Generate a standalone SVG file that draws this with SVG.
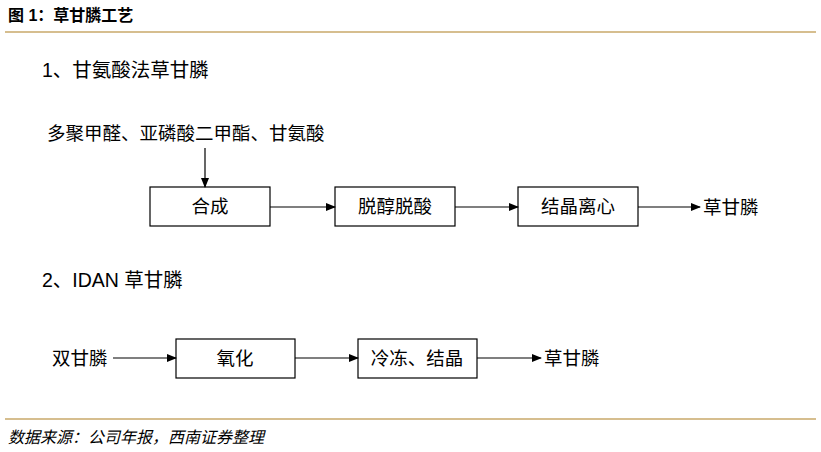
<svg xmlns="http://www.w3.org/2000/svg" width="821" height="452" viewBox="0 0 821 452">
<style>
text{font-family:"Liberation Sans","Noto Sans CJK SC",sans-serif;fill:#000}
.t{font-size:18.5px}
.box rect{fill:#fff;stroke:#000;stroke-width:1.2}
.box text{font-size:18.5px;text-anchor:middle}
.c line{stroke:#000;stroke-width:1.2;marker-end:url(#a)}
</style>
<defs><marker id="a" markerWidth="10" markerHeight="8" refX="9" refY="4" orient="auto" markerUnits="userSpaceOnUse"><path d="M0,0L10,4L0,8z" fill="#000"/></marker></defs>
<rect width="821" height="452" fill="#fff"/>
<text x="8" y="21" font-size="16" font-weight="bold">图 1：草甘膦工艺</text>
<line x1="5" y1="32" x2="816" y2="32" stroke="#c9a96a" stroke-width="1.5"/>
<line x1="5" y1="419" x2="816" y2="419" stroke="#c9a96a" stroke-width="1.5"/>
<text x="8" y="443" font-size="16" font-style="italic">数据来源：公司年报，西南证券整理</text>
<text x="42" y="77" font-size="19.5">1、甘氨酸法草甘膦</text>
<text x="42" y="287" font-size="19.5">2、IDAN 草甘膦</text>
<text id="n0" class="t" x="47" y="140">多聚甲醛、亚磷酸二甲酯、甘氨酸</text>
<g id="n1" class="box"><rect x="150" y="187" width="120" height="39"/><text x="210" y="213">合成</text></g>
<g id="n2" class="box"><rect x="335" y="187" width="120" height="39"/><text x="395" y="213">脱醇脱酸</text></g>
<g id="n3" class="box"><rect x="518" y="187" width="120" height="39"/><text x="578" y="213">结晶离心</text></g>
<text id="n4" class="t" x="703" y="214">草甘膦</text>
<text id="n5" class="t" x="52" y="365">双甘膦</text>
<g id="n6" class="box"><rect x="176" y="339" width="119" height="39"/><text x="235" y="365">氧化</text></g>
<g id="n7" class="box"><rect x="358" y="339" width="119" height="39"/><text x="417" y="365">冷冻、结晶</text></g>
<text id="n8" class="t" x="544" y="365">草甘膦</text>
<g class="c">
<line x1="205" y1="148" x2="205" y2="187"/>
<line x1="270" y1="207" x2="335" y2="207"/>
<line x1="455" y1="207" x2="518" y2="207"/>
<line x1="638" y1="207" x2="700" y2="207"/>
<line x1="113" y1="358" x2="176" y2="358"/>
<line x1="295" y1="358" x2="358" y2="358"/>
<line x1="477" y1="358" x2="541" y2="358"/>
</g>
</svg>
